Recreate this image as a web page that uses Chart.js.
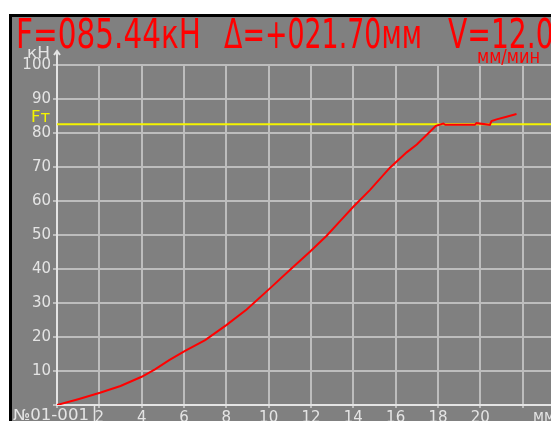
<!DOCTYPE html>
<html>
<head>
<meta charset="utf-8">
<script src="https://cdn.jsdelivr.net/npm/chart.js@4.4.1/dist/chart.umd.min.js"></script>
<style>
html,body{margin:0;padding:0;background:#fff;overflow:hidden;}
#c{display:block;}
</style>
</head>
<body>
<canvas id="c" width="551" height="421"></canvas>
<script>
// ---- data ----
const displacement = [0, 1.0, 2.03, 3.0, 4.0, 4.63, 5.3, 6.05, 7.0, 8.0, 8.96, 10.06, 11.0, 11.95, 12.74, 13.45, 14.0, 14.78, 15.73, 16.52, 17.0, 17.46, 17.9, 18.25, 18.35, 18.72, 19.74, 19.82, 20.45, 20.53, 20.77, 21.24, 21.71];
const force        = [0, 1.7, 3.6, 5.6, 8.3, 10.5, 13.2, 15.9, 19.1, 23.5, 28.1, 34.3, 39.7, 45.1, 49.8, 54.6, 58.3, 63.2, 69.8, 74.3, 76.6, 79.4, 82.1, 82.8, 82.4, 82.4, 82.4, 82.9, 82.4, 83.5, 84.0, 84.8, 85.6];
const ftValue = 82.6;
const xRange = [0, 23.34];
const xTickStep = 2;
const yTicks = [0, 100, 10];
const titleParts = ["F=085.44кН", "Δ=+021.70мм", "V=12.0"];
const speedUnit = "мм/мин";
const yUnit = "кН";
const xUnit = "мм";
const ftLabel = "Fт";
const sampleLabel = "№01-001";

const curve = displacement.map((x, i) => ({x: x, y: force[i]}));
const ftLine = [{x: xRange[0], y: ftValue}, {x: xRange[1], y: ftValue}];

const FONT = '"DejaVu Sans", sans-serif';
const LIGHT = '#e4e4e4';

const decor = {
  id: 'decor',
  beforeDraw(chart) {
    const ctx = chart.ctx;
    ctx.save();
    ctx.fillStyle = '#ffffff';
    ctx.fillRect(0, 0, chart.width, chart.height);
    ctx.fillStyle = '#000000';
    ctx.fillRect(9, 14, chart.width - 9, chart.height - 14);
    ctx.fillStyle = '#808080';
    ctx.fillRect(12, 17, chart.width - 12, chart.height - 17);
    ctx.restore();
  },
  afterDraw(chart) {
    const ctx = chart.ctx;
    const xs = chart.scales.x, ys = chart.scales.y;
    const x0 = xs.getPixelForValue(0);
    const yTop = ys.getPixelForValue(yTicks[1]);
    const yBot = ys.getPixelForValue(0);
    ctx.save();
    // title
    ctx.fillStyle = '#ff0000';
    ctx.textBaseline = 'alphabetic';
    ctx.font = '41px ' + FONT;
    const targets = [[16, 185], [224, 198]];
    let sxs = [];
    titleParts.forEach((t, i) => {
      const w = ctx.measureText(t).width;
      let x, sx;
      if (i < 2) { x = targets[i][0]; sx = targets[i][1] / w; sxs.push(sx); }
      else { x = 448; sx = (sxs[0] + sxs[1]) / 2; }
      ctx.save();
      ctx.translate(x, 48);
      ctx.scale(sx, 1);
      ctx.fillText(t, 0, 0);
      ctx.restore();
    });
    // speed unit
    ctx.font = '19px ' + FONT;
    {
      const w = ctx.measureText(speedUnit).width;
      ctx.save();
      ctx.translate(477, 63);
      ctx.scale(63 / w, 1);
      ctx.fillText(speedUnit, 0, 0);
      ctx.restore();
    }
    // y unit
    ctx.fillStyle = LIGHT;
    ctx.font = '15px ' + FONT;
    {
      const w = ctx.measureText(yUnit).width;
      ctx.save();
      ctx.translate(27, 58);
      ctx.scale(23 / w, 1);
      ctx.fillText(yUnit, 0, 0);
      ctx.restore();
    }
    // y axis arrow
    ctx.strokeStyle = LIGHT;
    ctx.lineWidth = 2;
    ctx.beginPath();
    ctx.moveTo(x0, yTop);
    ctx.lineTo(x0, 51);
    ctx.moveTo(x0 - 3, 55);
    ctx.lineTo(x0, 51);
    ctx.lineTo(x0 + 3, 55);
    ctx.stroke();
    // Ft label
    ctx.fillStyle = '#f4f400';
    ctx.font = '16px ' + FONT;
    {
      const yp = ys.getPixelForValue(ftValue);
      const w = ctx.measureText(ftLabel).width;
      ctx.save();
      ctx.translate(31, yp - 2);
      ctx.scale(19 / w, 1);
      ctx.fillText(ftLabel, 0, 0);
      ctx.restore();
    }
    // sample label and separator
    ctx.fillStyle = LIGHT;
    ctx.font = '15px ' + FONT;
    {
      const w = ctx.measureText(sampleLabel).width;
      ctx.save();
      ctx.translate(13, 420);
      ctx.scale(76 / w, 1);
      ctx.fillText(sampleLabel, 0, 0);
      ctx.restore();
    }
    ctx.lineWidth = 1.5;
    ctx.beginPath();
    ctx.moveTo(94.5, yBot);
    ctx.lineTo(94.5, chart.height);
    ctx.stroke();
    // x unit
    {
      const w = ctx.measureText(xUnit).width;
      ctx.save();
      ctx.translate(533, 421);
      ctx.scale(22 / w, 1);
      ctx.fillText(xUnit, 0, 0);
      ctx.restore();
    }
    ctx.restore();
  }
};

new Chart(document.getElementById('c'), {
  type: 'line',
  data: {
    datasets: [
      {
        label: 'Ft',
        data: ftLine,
        borderColor: '#f4f400',
        borderWidth: 2,
        pointRadius: 0,
        tension: 0,
        order: 2
      },
      {
        label: 'F',
        data: curve,
        borderColor: '#ff0000',
        borderWidth: 2,
        pointRadius: 0,
        tension: 0,
        order: 1
      }
    ]
  },
  options: {
    responsive: false,
    animation: false,
    events: [],
    layout: {padding: {left: 0, right: 0, top: 65, bottom: 0}},
    plugins: {legend: {display: false}, tooltip: {enabled: false}, title: {display: false}},
    scales: {
      x: {
        type: 'linear',
        min: xRange[0],
        max: xRange[1],
        afterFit(s) { s.height = 16; },
        grid: {color: '#bdbdbd', lineWidth: 2, tickLength: 3, drawTicks: true},
        border: {color: LIGHT, width: 2},
        ticks: {
          stepSize: xTickStep,
          includeBounds: false,
          autoSkip: false,
          maxRotation: 0,
          padding: 1,
          color: LIGHT,
          font: {family: FONT, size: 15},
          callback: (v) => (v === 0 || v >= 22) ? '' : String(v)
        }
      },
      y: {
        type: 'linear',
        min: yTicks[0],
        max: yTicks[1],
        afterFit(s) { s.width = 57; },
        grid: {color: '#bdbdbd', lineWidth: 2, tickLength: 4},
        border: {color: LIGHT, width: 2},
        ticks: {
          stepSize: yTicks[2],
          padding: 2,
          color: LIGHT,
          font: {family: FONT, size: 15},
          callback: (v) => v === 0 ? '' : String(v)
        }
      }
    }
  },
  plugins: [decor]
});
</script>
</body>
</html>
